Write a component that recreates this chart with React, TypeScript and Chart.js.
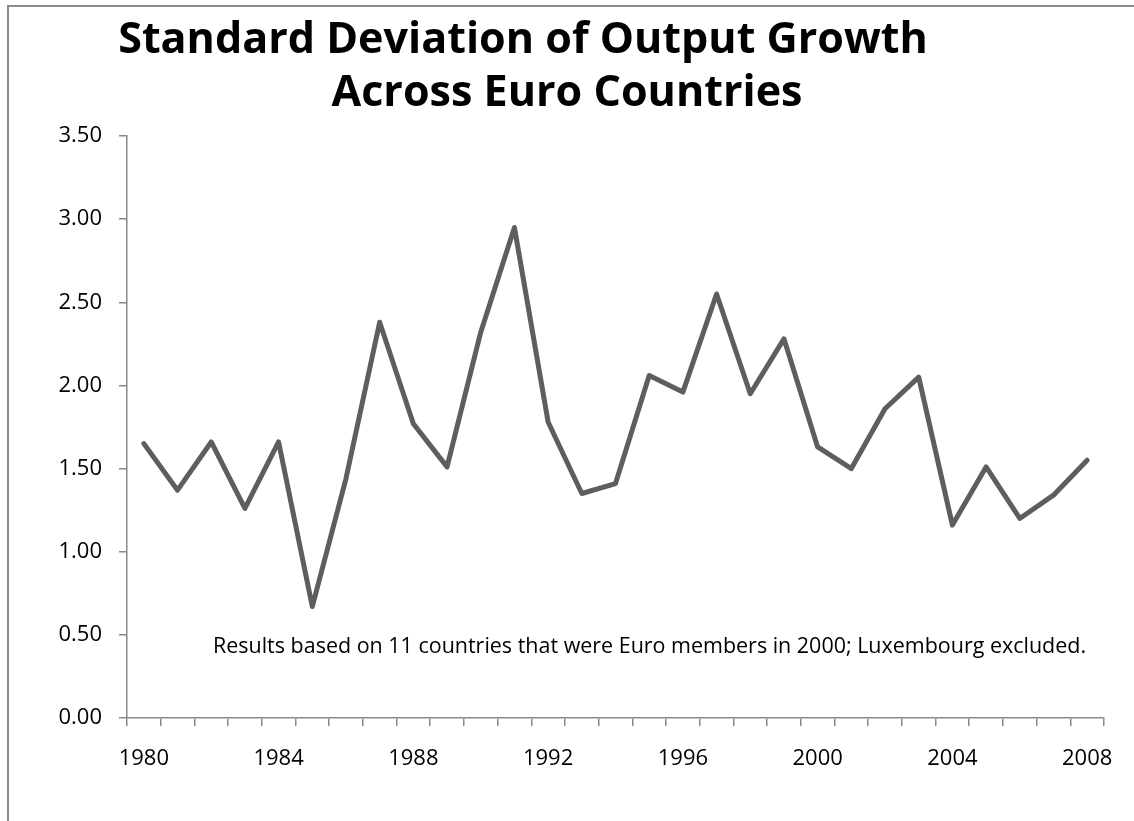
import React, { useEffect, useRef } from "react";
import { Chart, registerables } from "chart.js";

Chart.register(...registerables);

const years: string[] = [
  "1980", "1981", "1982", "1983", "1984", "1985", "1986", "1987", "1988", "1989",
  "1990", "1991", "1992", "1993", "1994", "1995", "1996", "1997", "1998", "1999",
  "2000", "2001", "2002", "2003", "2004", "2005", "2006", "2007", "2008",
];

const stdDev: number[] = [
  1.65, 1.37, 1.66, 1.26, 1.66, 0.67, 1.44, 2.38, 1.77, 1.51,
  2.32, 2.95, 1.78, 1.35, 1.41, 2.06, 1.96, 2.55, 1.95, 2.28,
  1.63, 1.50, 1.86, 2.05, 1.16, 1.51, 1.20, 1.34, 1.55,
];

const titleLines: string[] = ["Standard Deviation of Output Growth", "Across Euro Countries"];
const noteText = "Results based on 11 countries that were Euro members in 2000; Luxembourg excluded.";

const FONT = "'Open Sans', 'Noto Sans', sans-serif";

function fitFont(ctx: any, text: string, weight: string, target: number) {
  ctx.font = `${weight} 40px ${FONT}`;
  const w = ctx.measureText(text).width;
  const size = (40 * target) / w;
  return `${weight} ${size.toFixed(2)}px ${FONT}`;
}

const decorPlugin = {
  id: "decor",
  beforeDraw(chart: any) {
    const ctx = chart.ctx;
    ctx.save();
    ctx.fillStyle = "#ffffff";
    ctx.fillRect(0, 0, chart.width, chart.height);
    ctx.strokeStyle = "#8c8c8c";
    ctx.lineWidth = 2;
    ctx.beginPath();
    ctx.moveTo(8, chart.height + 5);
    ctx.lineTo(8, 6);
    ctx.lineTo(chart.width + 5, 6);
    ctx.stroke();
    ctx.restore();
  },
  afterDraw(chart: any) {
    const ctx = chart.ctx;
    ctx.save();
    ctx.fillStyle = "#000000";
    ctx.textBaseline = "alphabetic";
    ctx.textAlign = "center";
    ctx.font = fitFont(ctx, titleLines[0], "bold", 810);
    ctx.fillText(titleLines[0], 523, 53);
    ctx.fillText(titleLines[1], 567, 106);
    ctx.textAlign = "left";
    ctx.font = fitFont(ctx, noteText, "normal", 873);
    ctx.fillText(noteText, 213, 653);
    ctx.restore();
  },
};

export default function App() {
  const ref = useRef<HTMLCanvasElement | null>(null);
  useEffect(() => {
    if (!ref.current) return;
    const chart = new Chart(ref.current, {
      type: "line",
      data: {
        labels: years,
        datasets: [
          {
            data: stdDev,
            borderColor: "#5e5e5e",
            borderWidth: 5,
            pointRadius: 0,
            tension: 0,
            borderJoinStyle: "round",
            borderCapStyle: "round",
          },
        ],
      },
      options: {
        animation: false,
        responsive: false,
        maintainAspectRatio: false,
        layout: { padding: { left: 0, top: 136, right: 30, bottom: 0 } },
        plugins: {
          legend: { display: false },
          title: { display: false },
          tooltip: { enabled: false },
        },
        scales: {
          x: {
            type: "category",
            offset: true,
            afterFit: (s: any) => { s.height = 103; },
            border: { display: true, color: "#898989", width: 1.5 },
            grid: {
              offset: true,
              drawOnChartArea: false,
              drawTicks: true,
              tickLength: 8,
              color: "#898989",
              lineWidth: 1.5,
            },
            ticks: {
              autoSkip: false,
              maxRotation: 0,
              minRotation: 0,
              padding: 20,
              color: "#000000",
              font: { family: FONT, size: 22 },
              callback: (_v: any, i: number) => (i % 4 === 0 ? years[i] : ""),
            },
          },
          y: {
            min: 0,
            max: 3.5,
            afterFit: (s: any) => { s.width = 127; },
            border: { display: true, color: "#898989", width: 1.5 },
            grid: {
              drawOnChartArea: false,
              drawTicks: true,
              tickLength: 8,
              color: "#898989",
              lineWidth: 1.5,
            },
            ticks: {
              stepSize: 0.5,
              padding: 17,
              color: "#000000",
              font: { family: FONT, size: 22 },
              callback: (v: any) => Number(v).toFixed(2),
            },
          },
        },
      },
      plugins: [decorPlugin],
    } as any);
    return () => chart.destroy();
  }, []);
  return (
    <div style={{ position: "fixed", left: 0, top: 0, width: 1134, height: 821 }}>
      <canvas ref={ref} width={1134} height={821} style={{ width: 1134, height: 821, display: "block" }} />
    </div>
  );
}
